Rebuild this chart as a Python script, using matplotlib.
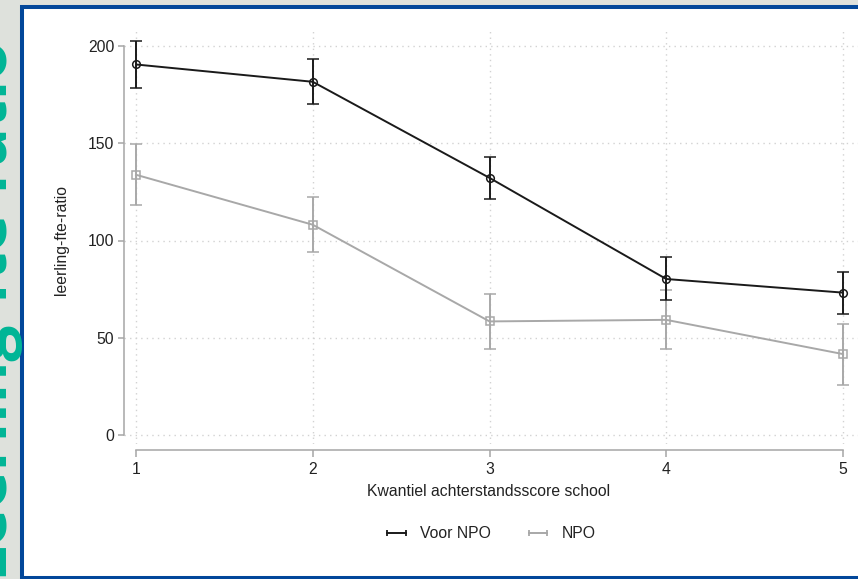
import matplotlib
matplotlib.use("Agg")
import matplotlib.pyplot as plt
from matplotlib.patches import Rectangle
from matplotlib.lines import Line2D

# ---- data ----
quantiles = [1, 2, 3, 4, 5]
voor_mean = [190.5, 181.6, 132.2, 80.2, 73.2]
voor_low = [178.6, 170.2, 121.4, 69.4, 62.4]
voor_high = [202.4, 193.3, 143.0, 91.5, 84.0]
npo_mean = [133.8, 108.1, 58.4, 59.2, 41.6]
npo_low = [118.4, 94.1, 44.3, 44.2, 25.7]
npo_high = [149.6, 122.4, 72.5, 74.5, 57.0]
yticks = [0, 50, 100, 150, 200]
series_names = ["Voor NPO", "NPO"]
xlabel = "Kwantiel achterstandsscore school"
ylabel = "leerling-fte-ratio"
side_title = "Leerling-fte-ratio"

W, H = 858, 579
plt.rcParams['font.family'] = ['Liberation Sans', 'DejaVu Sans']
FS = 11.3

fig = plt.figure(figsize=(W / 100, H / 100), dpi=100)
fig.patch.set_facecolor('#dee1dc')

# framed white panel
rect = Rectangle((22 / W, (H - 577.5) / H), 1.2, (577.5 - 7) / H,
                 transform=fig.transFigure, facecolor='white',
                 edgecolor='#02479a', linewidth=2.9, zorder=-1)
fig.add_artist(rect)

# large teal side title (cropped)
fig.text(1.5 / W, (H - 576) / H, side_title, rotation=90, rotation_mode='anchor',
         ha='left', va='baseline', fontsize=46, fontweight='bold',
         color='#00b596', family=['Open Sans', 'DejaVu Sans'])

# axes
left_px, right_px, top_px, bottom_px = 123.5, 858, 28, 444
ax = fig.add_axes([left_px / W, (H - bottom_px) / H,
                   (right_px - left_px) / W, (bottom_px - top_px) / H])
ax.set_facecolor('none')

px_per_x = (843 - 136) / 4.0
px_per_y = (435 - 46) / 200.0
ax.set_xlim(1 - (136 - left_px) / px_per_x, 5 + (right_px - 843) / px_per_x)
ax.set_ylim(-(bottom_px - 435) / px_per_y, 200 + (46 - top_px) / px_per_y)

# grid
for yv in yticks:
    ax.axhline(yv, color='#d2d2d2', lw=1.0, ls=(0, (1, 3)), zorder=0)
for xv in quantiles:
    ax.axvline(xv, color='#d2d2d2', lw=1.0, ls=(0, (1, 3)), zorder=0)

# series
def draw(mean, low, high, color, marker, lw, z):
    yerr = [[m - l for m, l in zip(mean, low)], [h - m for m, h in zip(mean, high)]]
    ax.errorbar(quantiles, mean, yerr=yerr, color=color, lw=lw, elinewidth=lw,
                capsize=4, capthick=lw, marker=marker, markersize=5.5,
                markerfacecolor='none', markeredgecolor=color,
                markeredgewidth=1.1, zorder=z)

draw(npo_mean, npo_low, npo_high, '#a8a8a8', 's', 1.4, 2)
draw(voor_mean, voor_low, voor_high, '#1a1a1a', 'o', 1.4, 3)

# spines
for s in ['top', 'right']:
    ax.spines[s].set_visible(False)
ax.spines['left'].set_bounds(0, 200)
ax.spines['left'].set_color('#a6a6a6')
ax.spines['left'].set_linewidth(1.1)
ax.spines['bottom'].set_position(('outward', 4))
ax.spines['bottom'].set_bounds(1, 5)
ax.spines['bottom'].set_color('#a6a6a6')
ax.spines['bottom'].set_linewidth(1.1)

ax.set_xticks(quantiles)
ax.set_xticklabels([str(q) for q in quantiles])
ax.set_yticks(yticks)
ax.set_yticklabels([str(v) for v in yticks])
ax.tick_params(axis='both', colors='#a6a6a6', labelcolor='#222222',
               labelsize=FS, width=1.1)
ax.tick_params(axis='y', length=4.5, pad=2)
ax.tick_params(axis='x', length=5, pad=4)

fig.text(489 / W, 1 - 492 / H, xlabel, ha='center', va='center',
         fontsize=FS, color='#222222')
fig.text(62 / W, 1 - 240 / H, ylabel, ha='center', va='center',
         rotation=90, fontsize=FS, color='#222222')

handles = [Line2D([0, 1], [0, 0], color='#1a1a1a', lw=1.4, marker='|',
                  markersize=5, markeredgewidth=1.3),
           Line2D([0, 1], [0, 0], color='#a8a8a8', lw=1.4, marker='|',
                  markersize=5, markeredgewidth=1.3)]
fig.legend(handles, series_names, loc='center',
           bbox_to_anchor=(489 / W, 1 - 534 / H), ncol=2, frameon=False,
           numpoints=2, fontsize=FS, handlelength=1.8, handletextpad=0.6,
           columnspacing=2.1, labelcolor='#222222')

fig.savefig('out.png', dpi=100, facecolor=fig.get_facecolor())
